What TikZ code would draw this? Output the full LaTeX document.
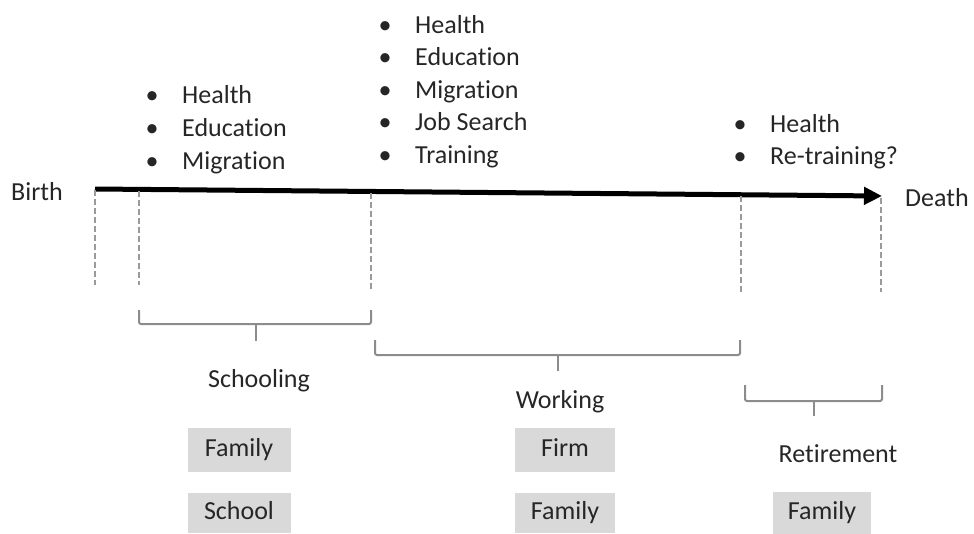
\documentclass[tikz,border=0pt]{standalone}
\usepackage{fontspec}
\setmainfont{Carlito}[Ligatures={NoCommon}]
\usetikzlibrary{arrows.meta}
\definecolor{txt}{HTML}{262626}
\definecolor{guidecol}{HTML}{9A9A9A}
\definecolor{bracecol}{HTML}{8C8C8C}
\definecolor{boxfill}{HTML}{D9D9D9}
\begin{document}
\begin{tikzpicture}[x=1pt,y=-1pt,
  lbl/.style={font=\fontsize{26}{32}\selectfont, text=txt, inner sep=0pt, anchor=base},
  item/.style={lbl, anchor=base west},
  bul/.style={lbl},
  tag/.style={font=\fontsize{26}{32}\selectfont, text=txt, inner sep=0pt, anchor=center, fill=boxfill, minimum width=100pt, minimum height=44pt, text height=18pt, text depth=5pt},
  guide/.style={guidecol, line width=2pt, dash pattern=on 6pt off 3pt},
  brc/.style={bracecol, line width=2pt, rounded corners=2pt},
]
\useasboundingbox (0,0) rectangle (974,533);

% bullet lists
\foreach \t [count=\i] in {Health,Education,Migration} {
  \node[bul] (ab\i) at (152,{103+33*(\i-1)}) {\textbullet};
  \node[item] (a\i) at (182,{103+33*(\i-1)}) {\t};
}
\foreach \t [count=\i] in {Health,Education,Migration,Job Search,Training} {
  \node[bul] (bb\i) at (385,{33+32.5*(\i-1)}) {\textbullet};
  \node[item] (b\i) at (415,{33+32.5*(\i-1)}) {\t};
}
\foreach \t [count=\i] in {Health,Re-training?} {
  \node[bul] (cb\i) at (740,{132+32*(\i-1)}) {\textbullet};
  \node[item] (c\i) at (770,{132+32*(\i-1)}) {\t};
}

% end labels
\node[item] (birth) at (11,200) {Birth};
\node[item] (death) at (905,206) {Death};

% timeline
\coordinate (s) at (95,189);
\coordinate (e) at (882,196);
\draw[line width=5pt, -{Triangle[length=18pt,width=17pt]}] (s) -- (e);

% dashed guides
\coordinate (g1t) at (95,190);  \coordinate (g1b) at (95,285);
\coordinate (g2t) at (139,191); \coordinate (g2b) at (139,285);
\coordinate (g3t) at (371,193); \coordinate (g3b) at (371,290);
\coordinate (g4t) at (741,196); \coordinate (g4b) at (741,292);
\coordinate (g5t) at (881,198); \coordinate (g5b) at (881,292);
\foreach \k in {1,...,5} \draw[guide] (g\k t) -- (g\k b);

% braces
\coordinate (p1l) at (139,310); \coordinate (p1r) at (371,310);
\draw[brc] (p1l) |- (371,324) -- (p1r);
\draw[brc] (256,324) -- (256,341);
\coordinate (p2l) at (375,340); \coordinate (p2r) at (740,340);
\draw[brc] (p2l) |- (740,355) -- (p2r);
\draw[brc] (558,355) -- (558,371);
\coordinate (p3l) at (745,385); \coordinate (p3r) at (882,385);
\draw[brc] (p3l) |- (882,401) -- (p3r);
\draw[brc] (814,401) -- (814,416);

% phase labels
\node[lbl] (schooling) at (259,387) {Schooling};
\node[lbl] (working) at (560,408) {Working};
\node[lbl] (retirement) at (838,462) {Retirement};

% institution boxes
\node[tag, minimum width=103pt] (fam1) at (239,450) {Family};
\node[tag, minimum width=103pt, minimum height=40pt] (school) at (239,513) {School};
\node[tag] (firm) at (565,450) {Firm};
\node[tag, minimum height=40pt] (fam2) at (565,513) {Family};
\node[tag, minimum width=98pt, minimum height=42pt] (fam3) at (822,513) {Family};
\end{tikzpicture}
\end{document}
